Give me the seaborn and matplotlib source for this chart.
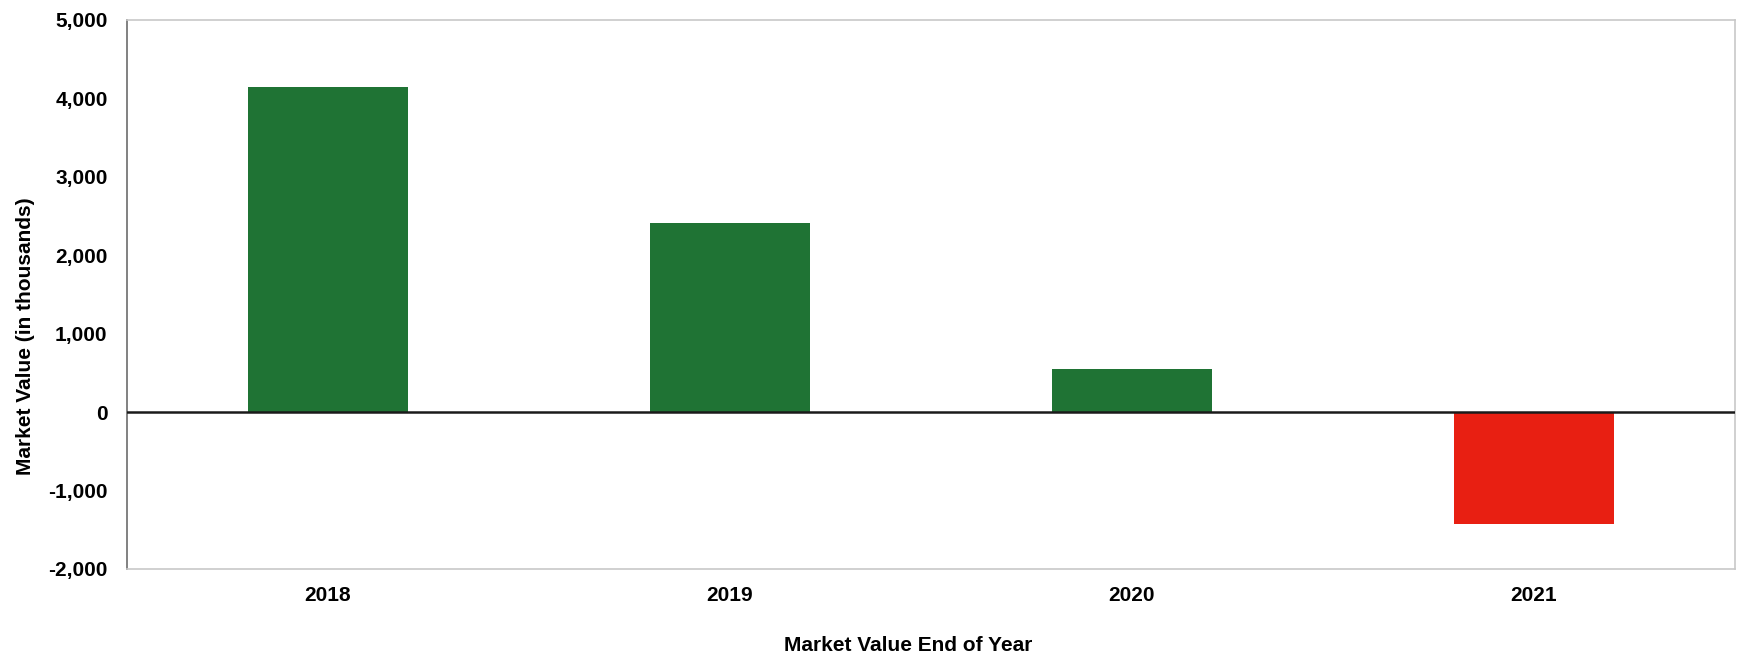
import matplotlib
matplotlib.use("Agg")
import matplotlib.pyplot as plt
import seaborn as sns
import pandas as pd
from matplotlib.ticker import FuncFormatter

years = ["2018", "2019", "2020", "2021"]
values = [4150, 2410, 550, -1430]

sns.set_theme(style="white")
plt.rcParams['font.family'] = ['Liberation Sans', 'DejaVu Sans']
plt.rcParams['text.color'] = 'black'
plt.rcParams['axes.labelcolor'] = 'black'
plt.rcParams['xtick.color'] = 'black'
plt.rcParams['ytick.color'] = 'black'

df = pd.DataFrame({"year": years, "value": values})
colors = ["#1f7334" if v >= 0 else "#e81f12" for v in values]

fig = plt.figure(figsize=(17.39, 6.6), dpi=100)
ax = fig.add_axes([0.073, 0.138, 0.9247, 0.8317])

sns.barplot(data=df, x="year", y="value", hue="year", palette=colors,
            legend=False, width=0.4, saturation=1, ax=ax, edgecolor="none")

ax.axhline(0, color="#1a1a1a", linewidth=1.8, zorder=3)
ax.set_ylim(-2000, 5000)
ax.set_xlim(-0.5, 3.5)
ax.set_yticks(range(-2000, 5001, 1000))
ax.yaxis.set_major_formatter(FuncFormatter(lambda v, p: f"{int(v):,}"))

for lab in ax.get_yticklabels() + ax.get_xticklabels():
    lab.set_fontweight("bold")
    lab.set_fontsize(15)
    lab.set_color("black")
ax.tick_params(axis="y", length=0, pad=14)
ax.tick_params(axis="x", length=0, pad=12)

ax.set_xlabel("Market Value End of Year", fontsize=15, fontweight="bold", color="black")
ax.set_ylabel("Market Value (in thousands)", fontsize=15, fontweight="bold", color="black")
ax.xaxis.set_label_coords(0.486, -0.122)
ax.yaxis.set_label_coords(-0.057, 0.424)

for side in ["top", "bottom", "right"]:
    ax.spines[side].set_color("#c8c8c8")
    ax.spines[side].set_linewidth(1.2)
ax.spines["left"].set_color("#777777")
ax.spines["left"].set_linewidth(1.3)

fig.savefig("out.png", dpi=100, facecolor="white")
